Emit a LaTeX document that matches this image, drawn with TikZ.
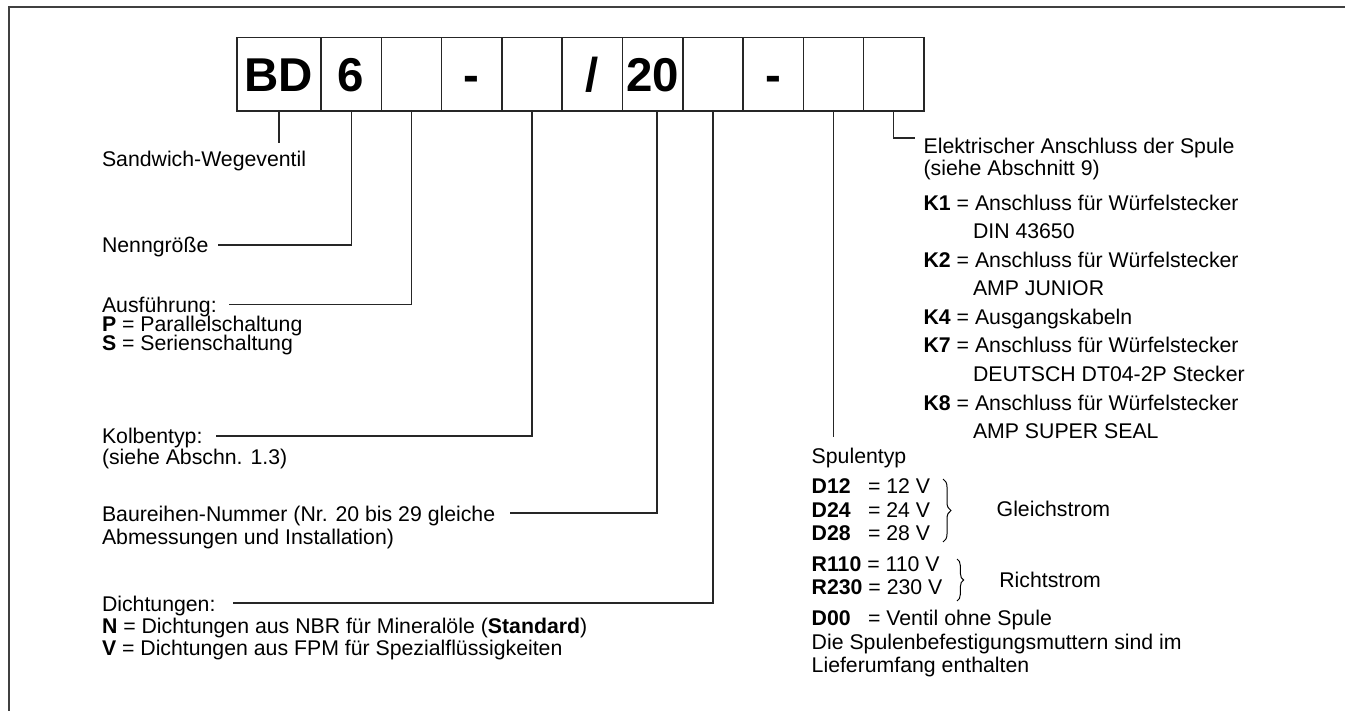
\documentclass[tikz,border=0pt]{standalone}
\usepackage{fontspec}
\setmainfont{Liberation Sans}
\usetikzlibrary{decorations.pathreplacing}
\begin{document}
\begin{tikzpicture}[x=0.75pt,y=-0.75pt]
\tikzset{
 txt/.style={anchor=base west, inner sep=0pt, outer sep=0pt, font=\fontsize{15.95}{19}\selectfont},
 cell/.style={draw=black!85, line width=1.1pt, minimum width=45.225pt, minimum height=55.275pt,
   inner sep=0pt, outer sep=0pt, text height=25.8pt, text depth=0pt,
   font=\fontsize{35.6}{40}\selectfont\bfseries},
 lead/.style={draw=black!85, line width=0.95pt},
 brc/.style={decorate, decoration={brace, amplitude=6pt}, line width=0.75pt}
}
\useasboundingbox (0,0) rectangle (1345,711);
% frame
\draw[line width=1.5pt, black!75] (1345,6.5) -- (8.5,6.5) -- (8.5,711);

% code cells
\node[cell, minimum width=63pt] (c1) at (279,74.15) {BD};
\node[cell] (c2) at (351.15,74.15) {6};
\node[cell] (c3) at (411.45,74.15) {};
\node[cell] (c4) at (471.75,74.15) {-};
\node[cell] (c5) at (532.05,74.15) {};
\node[cell] (c6) at (592.35,74.15) {/};
\node[cell] (c7) at (652.65,74.15) {20};
\node[cell] (c8) at (712.95,74.15) {};
\node[cell] (c9) at (773.25,74.15) {-};
\node[cell] (c10) at (833.55,74.15) {};
\node[cell] (c11) at (893.85,74.15) {};

% left texts
\node[txt] (sw) at (102,166.7) {Sandwich-Wegeventil};
\node[txt] (nen) at (102,252) {Nenngröße};
\node[txt] (aus) at (102,312) {Ausführung:};
\node[txt] (ausP) at (102,331.5) {\textbf{P} = Parallelschaltung};
\node[txt] (ausS) at (102,350.5) {\textbf{S} = Serienschaltung};
\node[txt] (kol) at (102,443.6) {Kolbentyp:};
\node[txt] (kol2) at (102,464) {(siehe Abschn. 1.3)};
\node[txt] (bau) at (102,521.3) {Baureihen-Nummer (Nr. 20 bis 29 gleiche};
\node[txt] (bau2) at (102,544) {Abmessungen und Installation)};
\node[txt] (dic) at (102,611) {Dichtungen:};
\node[txt] (dicN) at (102,633.4) {\textbf{N} = Dichtungen aus NBR für Mineralöle (\textbf{Standard})};
\node[txt] (dicV) at (102,655.5) {\textbf{V} = Dichtungen aus FPM für Spezialflüssigkeiten};

% right texts
\node[txt] (el1) at (923.6,153) {Elektrischer Anschluss der Spule};
\node[txt] (el2) at (923.6,175.5) {(siehe Abschnitt 9)};
\node[txt] (k1) at (923.6,210) {\textbf{K1} = Anschluss für Würfelstecker};
\node[txt] (k1b) at (973,238.6) {DIN 43650};
\node[txt] (k2) at (923.6,267.1) {\textbf{K2} = Anschluss für Würfelstecker};
\node[txt] (k2b) at (973,295.7) {AMP JUNIOR};
\node[txt] (k4) at (923.6,324.3) {\textbf{K4} = Ausgangskabeln};
\node[txt] (k7) at (923.6,352.8) {\textbf{K7} = Anschluss für Würfelstecker};
\node[txt] (k7b) at (973,381.4) {DEUTSCH DT04-2P Stecker};
\node[txt] (k8) at (923.6,410) {\textbf{K8} = Anschluss für Würfelstecker};
\node[txt] (k8b) at (973,438.5) {AMP SUPER SEAL};

\node[txt] (sp) at (811.7,463.3) {Spulentyp};
\node[txt] (d12) at (811.7,493.4) {\textbf{D12}};
\node[txt] (d12v) at (868,493.4) {= 12 V};
\node[txt] (d24) at (811.7,517.2) {\textbf{D24}};
\node[txt] (d24v) at (868,517.2) {= 24 V};
\node[txt] (d28) at (811.7,540.5) {\textbf{D28}};
\node[txt] (d28v) at (868,540.5) {= 28 V};
\node[txt] (r110) at (811.7,571) {\textbf{R110} = 110 V};
\node[txt] (r230) at (811.7,594.4) {\textbf{R230} = 230 V};
\node[txt] (d00) at (811.7,625) {\textbf{D00}};
\node[txt] (d00v) at (868,625) {= Ventil ohne Spule};
\node[txt] (die) at (811.7,649) {Die Spulenbefestigungsmuttern sind im};
\node[txt] (lief) at (811.7,672.5) {Lieferumfang enthalten};
\node[txt] (gl) at (996.7,516) {Gleichstrom};
\node[txt] (ri) at (999.3,587) {Richtstrom};

% braces
\coordinate (b1t) at (943,479);
\coordinate (b1b) at (943,542);
\coordinate (b2t) at (957,559);
\coordinate (b2b) at (957,601);
\draw[brc] (b1t) -- (b1b);
\draw[brc, decoration={brace, amplitude=5pt}] (b2t) -- (b2b);

% leader lines
\coordinate (swE) at (279,143);
\coordinate (nenL) at (217.5,245);
\coordinate (ausL) at (229,304.3);
\coordinate (kolL) at (216,436);
\coordinate (bauL) at (509.5,513);
\coordinate (dicL) at (233,603);
\coordinate (spE) at (833.55,437);
\coordinate (elR) at (915,138);
\draw[lead] (c1.south) -- (swE);
\draw[lead] (c2.south) |- (nenL);
\draw[lead] (c3.south) |- (ausL);
\draw[lead] (c5.south) |- (kolL);
\draw[lead] ([xshift=3.3pt]c7.south) |- (bauL);
\draw[lead] (c8.south) |- (dicL);
\draw[lead] (c10.south) -- (spE);
\draw[lead] (c11.south) |- (elR);
\end{tikzpicture}
\end{document}
